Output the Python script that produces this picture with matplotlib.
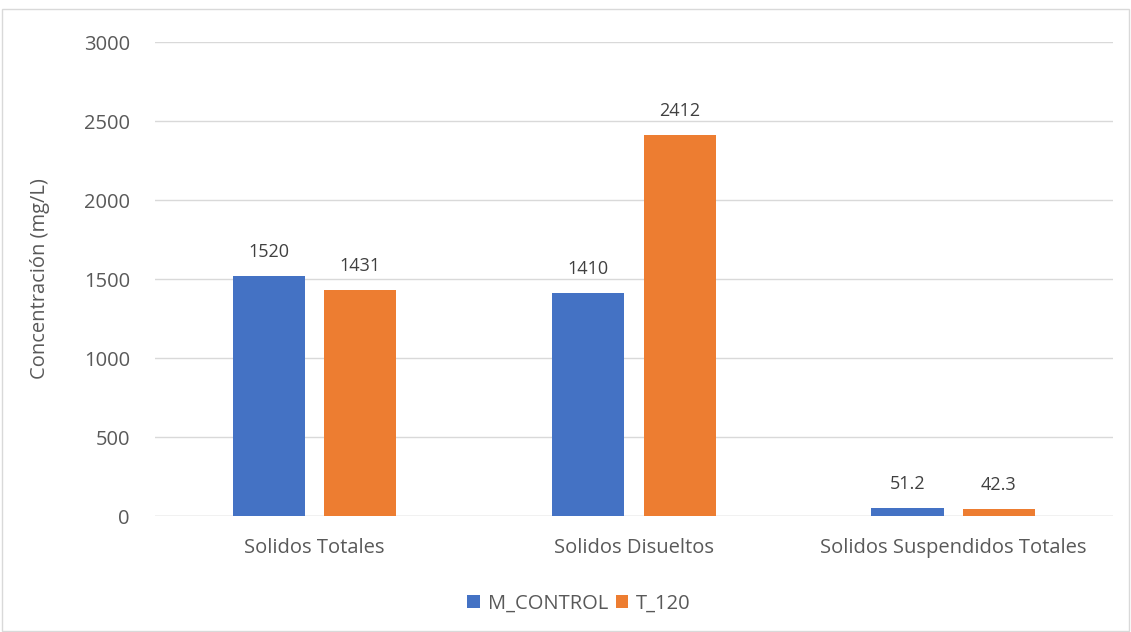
import numpy as np
import matplotlib.pyplot as plt
from matplotlib.patches import Rectangle

categorias = ['Solidos Totales', 'Solidos Disueltos', 'Solidos Suspendidos Totales']
m_control = [1520, 1410, 51.2]
t_120 = [1431, 2412, 42.3]
etiquetas_control = ['1520', '1410', '51.2']
etiquetas_t120 = ['1431', '2412', '42.3']

plt.rcParams['font.family'] = ['Open Sans', 'DejaVu Sans']
texto = '#595959'

fig = plt.figure(figsize=(11.31, 6.32), dpi=100)
ax = fig.add_axes([0.137, 0.1835, 0.847, 0.75])

x = np.arange(len(categorias))
ancho = 0.226
desp = 0.143
b1 = ax.bar(x - desp, m_control, ancho, color='#4472C4', label='M_CONTROL', zorder=3)
b2 = ax.bar(x + desp, t_120, ancho, color='#ED7D31', label='T_120', zorder=3)

for barras, etiquetas in ((b1, etiquetas_control), (b2, etiquetas_t120)):
    for b, t in zip(barras, etiquetas):
        ax.text(b.get_x() + b.get_width() / 2, b.get_height() + 95, t,
                ha='center', va='bottom', fontsize=13, color='#404040')

ax.set_xlim(-0.5, 2.5)
ax.set_ylim(0, 3000)
ax.set_yticks(range(0, 3001, 500))
ax.set_xticks(x)
ax.set_xticklabels(categorias)
ax.tick_params(axis='both', length=0, labelsize=14.5, colors=texto)
ax.tick_params(axis='x', pad=16)
ax.tick_params(axis='y', pad=18)
ax.grid(axis='y', color='#d9d9d9', linewidth=1, zorder=0)
for s in ax.spines.values():
    s.set_visible(False)
ax.axhline(0, color='#d9d9d9', linewidth=1, zorder=2)
ax.set_ylabel('Concentración (mg/L)', fontsize=14.5, color=texto, labelpad=24)

fig.legend(loc='lower center', bbox_to_anchor=(0.512, 0.0), ncol=2, frameon=False,
           fontsize=14.5, labelcolor=texto, handlelength=0.6, handleheight=0.6,
           handletextpad=0.4, columnspacing=0.4)

fig.patches.append(Rectangle((0.002, 0.002), 0.996, 0.984, transform=fig.transFigure,
                             fill=False, edgecolor='#d9d9d9', linewidth=1))

fig.savefig('out.png', dpi=100)
